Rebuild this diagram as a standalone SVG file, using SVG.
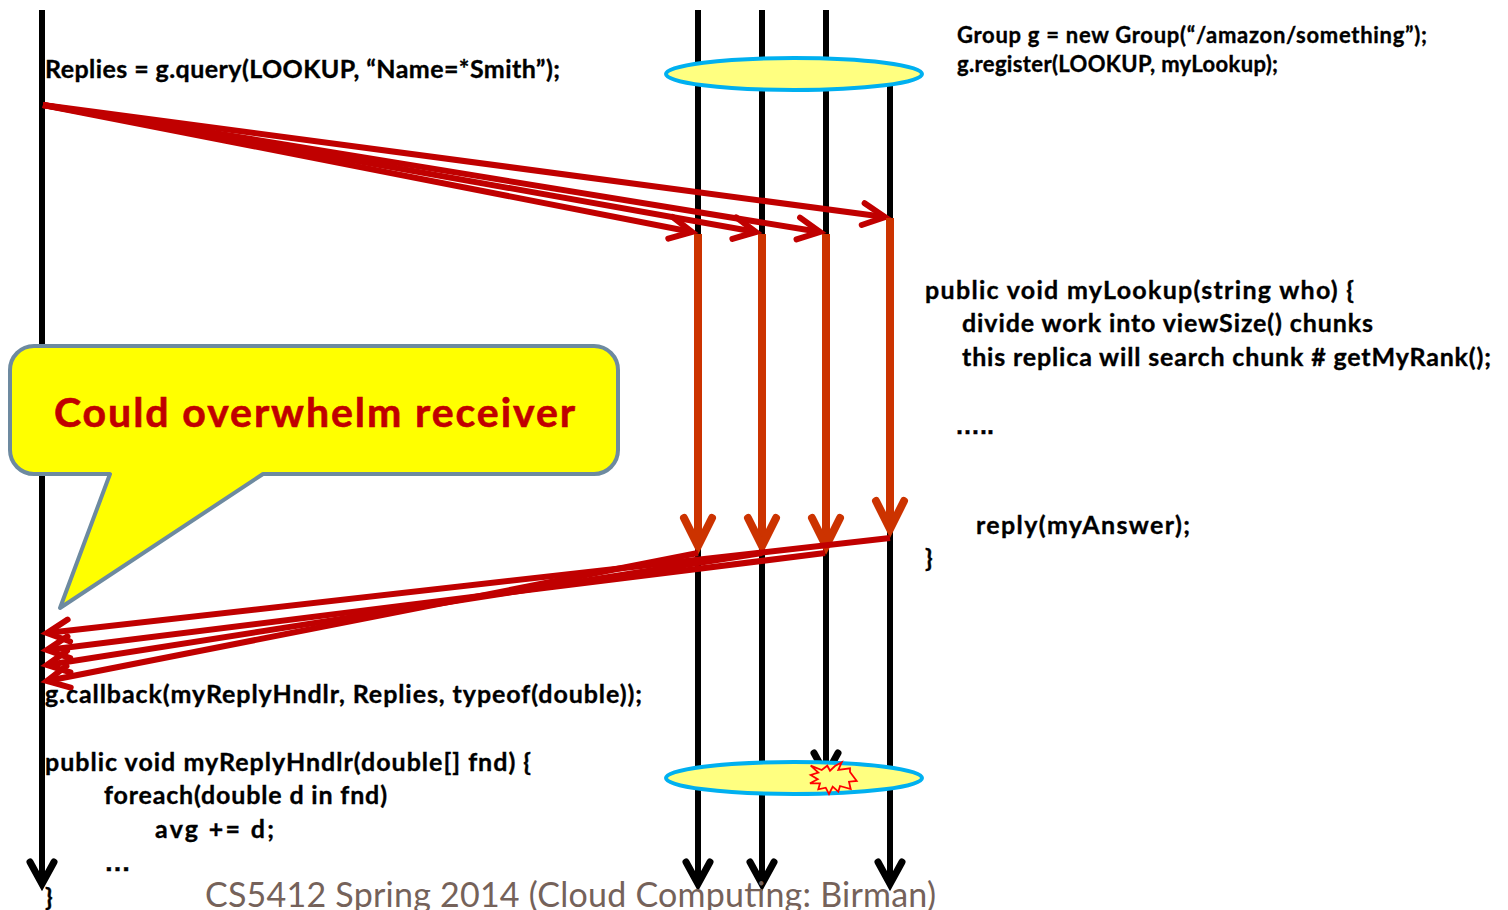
<svg xmlns="http://www.w3.org/2000/svg" width="1508" height="910" viewBox="0 0 1508 910">
<style>
.t{font-family:"Lato","Liberation Sans",sans-serif;font-weight:700;font-size:25px;fill:#000;stroke:#000;stroke-width:.35}
.s{font-size:22px}
.d{font-family:"Liberation Sans",sans-serif}
.b{fill:none;stroke:#000;stroke-width:6}
.r{fill:none;stroke:#c00000;stroke-width:6;marker-end:url(#mr)}
.o{fill:none;stroke:#cc3300;stroke-width:8;marker-end:url(#mo)}
.e{fill:#ffff80;stroke:#00b0f0;stroke-width:4}
</style>
<defs>
<marker id="mb" markerUnits="userSpaceOnUse" orient="auto" refX="0" refY="0" markerWidth="60" markerHeight="60" viewBox="-30 -30 60 60"><path d="M-22,-12L0,0L-22,12" fill="none" stroke="#000" stroke-width="7" stroke-linecap="round"/></marker>
<marker id="mr" markerUnits="userSpaceOnUse" orient="auto" refX="0" refY="0" markerWidth="60" markerHeight="60" viewBox="-30 -30 60 60"><path d="M-22,-11L0,0L-22,11" fill="none" stroke="#c00000" stroke-width="6" stroke-linecap="round"/></marker>
<marker id="mo" markerUnits="userSpaceOnUse" orient="auto" refX="0" refY="0" markerWidth="80" markerHeight="80" viewBox="-40 -40 80 80"><path d="M-28,-14L0,0L-28,14" fill="none" stroke="#cc3300" stroke-width="8" stroke-linecap="round"/></marker>
</defs>
<g id="connectors">
<path class="b" d="M42 10V884" marker-end="url(#mb)"/>
<path class="b" d="M698 10V884" marker-end="url(#mb)"/>
<path class="b" d="M762 10V884" marker-end="url(#mb)"/>
<path class="b" d="M826 10V775" marker-end="url(#mb)"/>
<path class="b" d="M890 84V884" marker-end="url(#mb)"/>
</g>
<g id="group-top"><ellipse class="e" cx="794" cy="74" rx="128" ry="16"/></g>
<g id="group-bottom"><ellipse class="e" cx="794" cy="778" rx="128" ry="16"/></g>
<g id="crash"><polygon points="841.7,762.3 838.3,770 850,768.3 850,772 856.7,781 849,781.7 850.7,789 840,786 838.3,791.7 832.7,786.7 829,794 825.7,787.7 818.3,789.3 820,783.3 810,783.3 817.7,779.3 810.7,775 818.3,772.7 810.7,765.7 821.7,770 827.3,765.7 830,770.7 835,766" fill="#ffff80" stroke="#ff0000" stroke-width="1.8"/></g>
<g id="messages">
<path class="r" d="M43 105L692 232"/>
<path class="r" d="M43 105L756 232"/>
<path class="r" d="M43 105L820 232"/>
<path class="r" d="M43 105L885 217"/>
<path class="o" d="M698 234V546"/>
<path class="o" d="M762 234V546"/>
<path class="o" d="M826 234V546"/>
<path class="o" d="M890 218V529"/>
<path class="r" d="M890 538L47 633"/>
<path class="r" d="M825 553L47 650"/>
<path class="r" d="M762 553L47 665"/>
<path class="r" d="M698 553L47 681"/>
</g>
<g id="callout">
<path d="M34 346H594A24 24 0 0 1 618 370V450A24 24 0 0 1 594 474H263L60 608L110 474H34A24 24 0 0 1 10 450V370A24 24 0 0 1 34 346Z" fill="#ffff00" stroke="#6d8aa0" stroke-width="4" stroke-linejoin="round"/>
<text class="t" x="54" y="427" style="font-size:41px;fill:#c00000;stroke:#c00000;stroke-width:.6" textLength="521">Could overwhelm receiver</text>
</g>
<g id="labels">
<text class="t" x="45" y="78" textLength="515">Replies = g.query(LOOKUP, “Name=*Smith”);</text>
<text class="t s" x="957" y="43" textLength="470">Group g = new Group(“/amazon/something”);</text>
<text class="t s" x="957" y="72" textLength="321">g.register(LOOKUP, myLookup);</text>
<text class="t" x="925" y="299" textLength="429">public void myLookup(string who)  {</text>
<text class="t" x="962" y="332" textLength="411">divide work into viewSize() chunks</text>
<text class="t" x="962" y="366" textLength="529">this replica will search chunk # getMyRank();</text>
<text class="t d" x="955" y="434">…..</text>
<text class="t" x="976" y="534" textLength="214">reply(myAnswer);</text>
<text class="t" x="925" y="567">}</text>
<text class="t" x="45" y="703" textLength="597">g.callback(myReplyHndlr, Replies, typeof(double));</text>
<text class="t" x="45" y="771" textLength="486">public void myReplyHndlr(double[] fnd) {</text>
<text class="t" x="104" y="804" textLength="283">foreach(double d in fnd)</text>
<text class="t" x="155" y="838" textLength="119">avg += d;</text>
<text class="t d" x="104" y="871" textLength="27" lengthAdjust="spacingAndGlyphs">…</text>
<text class="t" x="45" y="906">}</text>
<text x="205" y="907" textLength="731" style="font-family:Lato,'Liberation Sans',sans-serif;font-size:34px;fill:#75625a">CS5412 Spring 2014 (Cloud Computing: Birman)</text>
</g>
</svg>
